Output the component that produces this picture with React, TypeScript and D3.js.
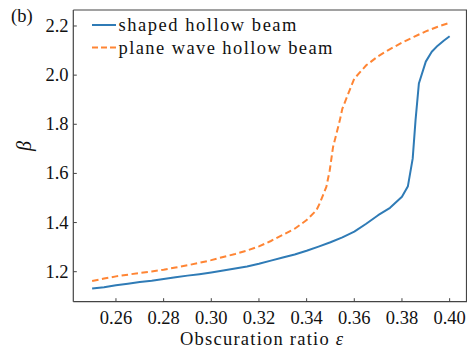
import React from "react";
import * as d3 from "d3";

const shapedEps = [0.25, 0.255, 0.26, 0.265, 0.27, 0.275, 0.28, 0.285, 0.29, 0.295, 0.3, 0.305, 0.31, 0.315, 0.32, 0.325, 0.33, 0.335, 0.34, 0.345, 0.35, 0.355, 0.36, 0.365, 0.37, 0.375, 0.38, 0.3825, 0.3845, 0.3857, 0.3871, 0.39, 0.3925, 0.395, 0.3975, 0.4];
const shapedBeta = [1.132, 1.137, 1.145, 1.151, 1.158, 1.163, 1.17, 1.177, 1.184, 1.19, 1.197, 1.205, 1.213, 1.221, 1.232, 1.245, 1.258, 1.27, 1.285, 1.302, 1.32, 1.34, 1.363, 1.395, 1.43, 1.46, 1.505, 1.548, 1.66, 1.817, 1.966, 2.055, 2.095, 2.12, 2.14, 2.158];

const planeEps = [0.25, 0.255, 0.26, 0.265, 0.27, 0.275, 0.28, 0.285, 0.29, 0.295, 0.3, 0.305, 0.31, 0.315, 0.32, 0.325, 0.33, 0.335, 0.34, 0.3441, 0.3455, 0.3483, 0.3497, 0.3511, 0.3539, 0.355, 0.36, 0.365, 0.37, 0.375, 0.38, 0.385, 0.39, 0.395, 0.4];
const planeBeta = [1.162, 1.172, 1.181, 1.188, 1.195, 1.201, 1.208, 1.217, 1.226, 1.236, 1.247, 1.26, 1.272, 1.286, 1.303, 1.325, 1.35, 1.375, 1.41, 1.45, 1.478, 1.546, 1.613, 1.708, 1.815, 1.864, 1.986, 2.04, 2.077, 2.106, 2.132, 2.156, 2.178, 2.197, 2.213];

const xTicks = [0.26, 0.28, 0.3, 0.32, 0.34, 0.36, 0.38, 0.4];
const yTicks = [1.2, 1.4, 1.6, 1.8, 2.0, 2.2];

const seriesNames = ["shaped hollow beam", "plane wave hollow beam"];
const seriesColors = ["#2f7bb6", "#ff8534"];

const FONT = "Liberation Serif";

export default function App() {
  const W = 467;
  const H = 348;
  const left = 73.3;
  const right = 467.5;
  const top = 10;
  const bottom = 301.7;

  const x = d3.scaleLinear().domain([0.2421, 0.4075]).range([left, right]);
  const y = d3.scaleLinear().domain([1.0779, 2.2651]).range([bottom, top]);

  const line = d3
    .line<[number, number]>()
    .x((d) => x(d[0]))
    .y((d) => y(d[1]));

  const shapedPts: [number, number][] = shapedEps.map((e, i) => [e, shapedBeta[i]]);
  const planePts: [number, number][] = planeEps.map((e, i) => [e, planeBeta[i]]);

  const axisColor = "#444";
  const tickStyle = { fontFamily: FONT, fontSize: "18.5px" };
  const labelStyle = { fontFamily: FONT, fontSize: "18.5px" };
  const legendLengths = [178, 214];

  return (
    <svg
      width={W}
      height={H}
      style={{ position: "absolute", left: 0, top: 0, background: "#fff" }}
    >
      <rect x={0} y={0} width={W} height={H} fill="#fff" />
      {/* lines */}
      <path d={line(shapedPts) || ""} fill="none" stroke={seriesColors[0]} strokeWidth={2} strokeLinejoin="round" />
      <path
        d={line(planePts) || ""}
        fill="none"
        stroke={seriesColors[1]}
        strokeWidth={2}
        strokeDasharray="6.5,3.5"
      />
      {/* spines */}
      <line x1={left} x2={left} y1={top} y2={bottom} stroke={axisColor} strokeWidth={1.2} />
      <line x1={left} x2={W} y1={bottom} y2={bottom} stroke={axisColor} strokeWidth={1.2} />
      <line x1={left} x2={W} y1={top} y2={top} stroke={axisColor} strokeWidth={1.2} />
      <line x1={right - 1} x2={right - 1} y1={top} y2={bottom} stroke={axisColor} strokeWidth={1.2} />
      {/* x ticks */}
      {xTicks.map((t) => (
        <g key={"x" + t}>
          <line x1={x(t)} x2={x(t)} y1={bottom} y2={bottom - 3.5} stroke={axisColor} strokeWidth={1} />
          <text x={x(t)} y={324} textAnchor="middle" style={tickStyle} fill="#111">
            {t.toFixed(2)}
          </text>
        </g>
      ))}
      {/* y ticks */}
      {yTicks.map((t) => (
        <g key={"y" + t}>
          <line x1={left} x2={left + 3.5} y1={y(t)} y2={y(t)} stroke={axisColor} strokeWidth={1} />
          <text x={68.5} y={y(t) + 6} textAnchor="end" style={tickStyle} fill="#111">
            {t.toFixed(1)}
          </text>
        </g>
      ))}
      {/* axis labels */}
      <text x={180} y={344.5} style={labelStyle} fill="#111" textLength={163} lengthAdjust="spacing">
        Obscuration ratio <tspan style={{ fontStyle: "italic" }}>ε</tspan>
      </text>
      <text
        transform={`translate(31,146) rotate(-90)`}
        textAnchor="middle"
        style={{ fontFamily: FONT, fontSize: "20px", fontStyle: "italic" }}
        fill="#111"
      >
        β
      </text>
      <text x={11} y={22} style={tickStyle} fill="#111">
        (b)
      </text>
      {/* legend */}
      {seriesNames.map((name, i) => (
        <g key={name}>
          <line
            x1={92}
            x2={116}
            y1={25 + i * 22.5}
            y2={25 + i * 22.5}
            stroke={seriesColors[i]}
            strokeWidth={2}
            strokeDasharray={i === 1 ? "6,3" : undefined}
          />
          <text
            x={118.5}
            y={31 + i * 22.5}
            style={labelStyle}
            fill="#111"
            textLength={legendLengths[i]}
            lengthAdjust="spacing"
          >
            {name}
          </text>
        </g>
      ))}
    </svg>
  );
}
